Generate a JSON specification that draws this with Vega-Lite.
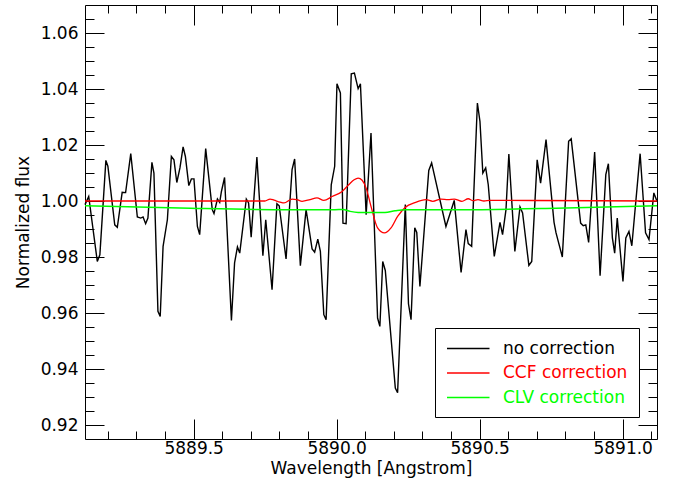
{
  "$schema": "https://vega.github.io/schema/vega-lite/v6.json",
  "width": 572,
  "height": 434,
  "autosize": {"type": "none"},
  "padding": {"left": 85, "top": 5, "right": 19, "bottom": 40},
  "background": "#ffffff",
  "config": {
    "view": {"stroke": null},
    "font": "DejaVu Sans",
    "axis": {
      "labelFont": "DejaVu Sans",
      "titleFont": "DejaVu Sans",
      "labelFontSize": 17,
      "titleFontSize": 17,
      "titleFontWeight": "normal",
      "labelColor": "#000000",
      "titleColor": "#000000",
      "tickColor": "#000000",
      "domainColor": "#000000",
      "tickWidth": 1,
      "domainWidth": 1,
      "grid": false,
      "labelFlush": false,
      "labelOverlap": false
    }
  },
  "datasets": {
    "black": [
      {"s":"no correction","w":5889.120,"f":0.9987},
      {"s":"no correction","w":5889.133,"f":1.0016},
      {"s":"no correction","w":5889.163,"f":0.9784},
      {"s":"no correction","w":5889.172,"f":0.9808},
      {"s":"no correction","w":5889.193,"f":1.0145},
      {"s":"no correction","w":5889.200,"f":1.0124},
      {"s":"no correction","w":5889.224,"f":0.9915},
      {"s":"no correction","w":5889.233,"f":0.9906},
      {"s":"no correction","w":5889.250,"f":1.0031},
      {"s":"no correction","w":5889.262,"f":1.0030},
      {"s":"no correction","w":5889.280,"f":1.0169},
      {"s":"no correction","w":5889.303,"f":0.9943},
      {"s":"no correction","w":5889.315,"f":0.9939},
      {"s":"no correction","w":5889.323,"f":0.9943},
      {"s":"no correction","w":5889.332,"f":0.9919},
      {"s":"no correction","w":5889.340,"f":0.9939},
      {"s":"no correction","w":5889.354,"f":1.0138},
      {"s":"no correction","w":5889.361,"f":1.0100},
      {"s":"no correction","w":5889.375,"f":0.9606},
      {"s":"no correction","w":5889.383,"f":0.9588},
      {"s":"no correction","w":5889.393,"f":0.9838},
      {"s":"no correction","w":5889.408,"f":0.9933},
      {"s":"no correction","w":5889.422,"f":1.0159},
      {"s":"no correction","w":5889.431,"f":1.0147},
      {"s":"no correction","w":5889.441,"f":1.0066},
      {"s":"no correction","w":5889.452,"f":1.0118},
      {"s":"no correction","w":5889.463,"f":1.0193},
      {"s":"no correction","w":5889.471,"f":1.0159},
      {"s":"no correction","w":5889.483,"f":1.0055},
      {"s":"no correction","w":5889.492,"f":1.0079},
      {"s":"no correction","w":5889.501,"f":1.0079},
      {"s":"no correction","w":5889.513,"f":0.9909},
      {"s":"no correction","w":5889.521,"f":0.9880},
      {"s":"no correction","w":5889.542,"f":1.0187},
      {"s":"no correction","w":5889.565,"f":0.9969},
      {"s":"no correction","w":5889.571,"f":0.9955},
      {"s":"no correction","w":5889.583,"f":1.0007},
      {"s":"no correction","w":5889.591,"f":0.9995},
      {"s":"no correction","w":5889.597,"f":1.0034},
      {"s":"no correction","w":5889.608,"f":1.0084},
      {"s":"no correction","w":5889.632,"f":0.9573},
      {"s":"no correction","w":5889.643,"f":0.9779},
      {"s":"no correction","w":5889.653,"f":0.9836},
      {"s":"no correction","w":5889.661,"f":0.9814},
      {"s":"no correction","w":5889.684,"f":1.0007},
      {"s":"no correction","w":5889.692,"f":0.9993},
      {"s":"no correction","w":5889.701,"f":0.9871},
      {"s":"no correction","w":5889.721,"f":1.0157},
      {"s":"no correction","w":5889.742,"f":0.9805},
      {"s":"no correction","w":5889.752,"f":0.9933},
      {"s":"no correction","w":5889.774,"f":0.9683},
      {"s":"no correction","w":5889.791,"f":0.9990},
      {"s":"no correction","w":5889.799,"f":0.9983},
      {"s":"no correction","w":5889.823,"f":0.9793},
      {"s":"no correction","w":5889.844,"f":1.0112},
      {"s":"no correction","w":5889.853,"f":1.0150},
      {"s":"no correction","w":5889.873,"f":0.9769},
      {"s":"no correction","w":5889.893,"f":0.9969},
      {"s":"no correction","w":5889.914,"f":0.9829},
      {"s":"no correction","w":5889.923,"f":0.9817},
      {"s":"no correction","w":5889.934,"f":0.9864},
      {"s":"no correction","w":5889.943,"f":0.9820},
      {"s":"no correction","w":5889.955,"f":0.9594},
      {"s":"no correction","w":5889.963,"f":0.9576},
      {"s":"no correction","w":5889.981,"f":1.0058},
      {"s":"no correction","w":5889.993,"f":1.0124},
      {"s":"no correction","w":5890.001,"f":1.0419},
      {"s":"no correction","w":5890.013,"f":1.0386},
      {"s":"no correction","w":5890.022,"f":0.9921},
      {"s":"no correction","w":5890.033,"f":0.9919},
      {"s":"no correction","w":5890.051,"f":1.0454},
      {"s":"no correction","w":5890.062,"f":1.0457},
      {"s":"no correction","w":5890.075,"f":1.0401},
      {"s":"no correction","w":5890.083,"f":1.0419},
      {"s":"no correction","w":5890.103,"f":0.9951},
      {"s":"no correction","w":5890.120,"f":1.0243},
      {"s":"no correction","w":5890.143,"f":0.9582},
      {"s":"no correction","w":5890.151,"f":0.9552},
      {"s":"no correction","w":5890.161,"f":0.9784},
      {"s":"no correction","w":5890.170,"f":0.9752},
      {"s":"no correction","w":5890.205,"f":0.9332},
      {"s":"no correction","w":5890.213,"f":0.9315},
      {"s":"no correction","w":5890.240,"f":0.9987},
      {"s":"no correction","w":5890.251,"f":0.9633},
      {"s":"no correction","w":5890.260,"f":0.9576},
      {"s":"no correction","w":5890.273,"f":0.9904},
      {"s":"no correction","w":5890.280,"f":0.9888},
      {"s":"no correction","w":5890.291,"f":0.9695},
      {"s":"no correction","w":5890.322,"f":1.0109},
      {"s":"no correction","w":5890.332,"f":1.0136},
      {"s":"no correction","w":5890.382,"f":0.9909},
      {"s":"no correction","w":5890.411,"f":1.0002},
      {"s":"no correction","w":5890.435,"f":0.9745},
      {"s":"no correction","w":5890.452,"f":0.9898},
      {"s":"no correction","w":5890.460,"f":0.9848},
      {"s":"no correction","w":5890.472,"f":0.9838},
      {"s":"no correction","w":5890.492,"f":1.0350},
      {"s":"no correction","w":5890.501,"f":1.0284},
      {"s":"no correction","w":5890.511,"f":1.0100},
      {"s":"no correction","w":5890.521,"f":1.0118},
      {"s":"no correction","w":5890.530,"f":1.0058},
      {"s":"no correction","w":5890.551,"f":0.9802},
      {"s":"no correction","w":5890.571,"f":0.9924},
      {"s":"no correction","w":5890.580,"f":0.9880},
      {"s":"no correction","w":5890.592,"f":0.9969},
      {"s":"no correction","w":5890.602,"f":1.0168},
      {"s":"no correction","w":5890.623,"f":0.9820},
      {"s":"no correction","w":5890.641,"f":0.9979},
      {"s":"no correction","w":5890.650,"f":0.9957},
      {"s":"no correction","w":5890.672,"f":0.9770},
      {"s":"no correction","w":5890.682,"f":0.9784},
      {"s":"no correction","w":5890.701,"f":1.0147},
      {"s":"no correction","w":5890.713,"f":1.0064},
      {"s":"no correction","w":5890.732,"f":1.0219},
      {"s":"no correction","w":5890.760,"f":0.9924},
      {"s":"no correction","w":5890.767,"f":0.9886},
      {"s":"no correction","w":5890.789,"f":0.9800},
      {"s":"no correction","w":5890.811,"f":1.0213},
      {"s":"no correction","w":5890.820,"f":1.0222},
      {"s":"no correction","w":5890.853,"f":0.9921},
      {"s":"no correction","w":5890.862,"f":0.9912},
      {"s":"no correction","w":5890.871,"f":0.9915},
      {"s":"no correction","w":5890.881,"f":0.9852},
      {"s":"no correction","w":5890.902,"f":1.0175},
      {"s":"no correction","w":5890.921,"f":0.9733},
      {"s":"no correction","w":5890.941,"f":1.0094},
      {"s":"no correction","w":5890.950,"f":1.0133},
      {"s":"no correction","w":5890.964,"f":0.9868},
      {"s":"no correction","w":5890.972,"f":0.9814},
      {"s":"no correction","w":5890.981,"f":0.9939},
      {"s":"no correction","w":5891.001,"f":0.9713},
      {"s":"no correction","w":5891.011,"f":0.9868},
      {"s":"no correction","w":5891.022,"f":0.9891},
      {"s":"no correction","w":5891.032,"f":0.9840},
      {"s":"no correction","w":5891.061,"f":1.0169},
      {"s":"no correction","w":5891.080,"f":0.9886},
      {"s":"no correction","w":5891.092,"f":0.9862},
      {"s":"no correction","w":5891.109,"f":1.0029},
      {"s":"no correction","w":5891.120,"f":0.9999}
    ],
    "red": [
      {"s":"CCF correction","w":5889.120,"f":1.0000},
      {"s":"CCF correction","w":5889.749,"f":1.0000},
      {"s":"CCF correction","w":5889.767,"f":1.0007},
      {"s":"CCF correction","w":5889.781,"f":1.0003},
      {"s":"CCF correction","w":5889.802,"f":0.9996},
      {"s":"CCF correction","w":5889.816,"f":0.9993},
      {"s":"CCF correction","w":5889.844,"f":1.0007},
      {"s":"CCF correction","w":5889.861,"f":1.0005},
      {"s":"CCF correction","w":5889.879,"f":0.9999},
      {"s":"CCF correction","w":5889.907,"f":1.0005},
      {"s":"CCF correction","w":5889.931,"f":1.0011},
      {"s":"CCF correction","w":5889.955,"f":1.0002},
      {"s":"CCF correction","w":5889.984,"f":1.0016},
      {"s":"CCF correction","w":5890.019,"f":1.0034},
      {"s":"CCF correction","w":5890.042,"f":1.0058},
      {"s":"CCF correction","w":5890.061,"f":1.0076},
      {"s":"CCF correction","w":5890.075,"f":1.0082},
      {"s":"CCF correction","w":5890.089,"f":1.0074},
      {"s":"CCF correction","w":5890.103,"f":1.0046},
      {"s":"CCF correction","w":5890.120,"f":0.9981},
      {"s":"CCF correction","w":5890.143,"f":0.9904},
      {"s":"CCF correction","w":5890.167,"f":0.9886},
      {"s":"CCF correction","w":5890.190,"f":0.9904},
      {"s":"CCF correction","w":5890.213,"f":0.9945},
      {"s":"CCF correction","w":5890.242,"f":0.9979},
      {"s":"CCF correction","w":5890.271,"f":0.9993},
      {"s":"CCF correction","w":5890.312,"f":1.0005},
      {"s":"CCF correction","w":5890.336,"f":0.9999},
      {"s":"CCF correction","w":5890.365,"f":1.0007},
      {"s":"CCF correction","w":5890.389,"f":1.0005},
      {"s":"CCF correction","w":5890.411,"f":1.0007},
      {"s":"CCF correction","w":5890.438,"f":0.9999},
      {"s":"CCF correction","w":5890.460,"f":1.0008},
      {"s":"CCF correction","w":5890.477,"f":1.0001},
      {"s":"CCF correction","w":5890.494,"f":1.0005},
      {"s":"CCF correction","w":5890.515,"f":1.0000},
      {"s":"CCF correction","w":5890.536,"f":1.0002},
      {"s":"CCF correction","w":5891.120,"f":1.0000}
    ],
    "green": [
      {"s":"CLV correction","w":5889.120,"f":0.9983},
      {"s":"CLV correction","w":5889.452,"f":0.9975},
      {"s":"CLV correction","w":5889.781,"f":0.9969},
      {"s":"CLV correction","w":5889.994,"f":0.9969},
      {"s":"CLV correction","w":5890.022,"f":0.9970},
      {"s":"CLV correction","w":5890.047,"f":0.9963},
      {"s":"CLV correction","w":5890.075,"f":0.9959},
      {"s":"CLV correction","w":5890.169,"f":0.9959},
      {"s":"CLV correction","w":5890.204,"f":0.9965},
      {"s":"CLV correction","w":5890.239,"f":0.9969},
      {"s":"CLV correction","w":5890.431,"f":0.9969},
      {"s":"CLV correction","w":5890.767,"f":0.9974},
      {"s":"CLV correction","w":5891.120,"f":0.9983}
    ]
  },
  "resolve": {"axis": {"x": "independent", "y": "independent"}},
  "layer": [
    {
      "data": {"name": "black"},
      "mark": {"type": "line", "strokeWidth": 1.4},
      "encoding": {
        "x": {"field": "w", "type": "quantitative",
          "scale": {"domain": [5889.12, 5891.12], "nice": false, "zero": false},
          "axis": {"orient": "bottom", "values": [5889.5, 5890.0, 5890.5, 5891.0], "format": ".1f",
            "tickSize": -20, "labelPadding": 21, "title": "Wavelength [Angstrom]", "titlePadding": 4, "domain": true}},
        "y": {"field": "f", "type": "quantitative",
          "scale": {"domain": [0.915, 1.07], "nice": false, "zero": false},
          "axis": {"orient": "left", "values": [0.92, 0.94, 0.96, 0.98, 1.0, 1.02, 1.04, 1.06], "format": ".2f",
            "tickSize": -19, "labelPadding": 26, "title": "Normalized flux", "titlePadding": 8, "domain": true}},
        "color": {"field": "s", "type": "nominal",
          "scale": {"domain": ["no correction", "CCF correction", "CLV correction"], "range": ["#000000", "#ff0000", "#00ff00"]},
          "legend": {
            "title": null, "orient": "none", "legendX": 350, "legendY": 323,
            "symbolType": "M-1,0H4", "symbolSize": 289, "symbolStrokeWidth": 1.3,
            "labelFont": "DejaVu Sans", "labelFontSize": 17, "labelOffset": 38,
            "padding": 11, "rowPadding": 6.5, "strokeColor": "#000000", "fillColor": "#ffffff",
            "encode": {"labels": {"update": {"fill": {"signal": "datum.value === 'CCF correction' ? '#ff0000' : (datum.value === 'CLV correction' ? '#00ff00' : '#000000')"}}}}
          }}
      }
    },
    {
      "data": {"name": "red"},
      "mark": {"type": "line", "strokeWidth": 1.3, "interpolate": "monotone"},
      "encoding": {
        "x": {"field": "w", "type": "quantitative",
          "axis": {"orient": "top", "values": [5889.5, 5890.0, 5890.5, 5891.0], "tickSize": -20, "labels": false, "title": null, "domain": true}},
        "y": {"field": "f", "type": "quantitative",
          "axis": {"orient": "right", "values": [0.92, 0.94, 0.96, 0.98, 1.0, 1.02, 1.04, 1.06], "tickSize": -19, "labels": false, "title": null, "domain": true}},
        "color": {"field": "s", "type": "nominal"}
      }
    },
    {
      "data": {"name": "green"},
      "mark": {"type": "line", "strokeWidth": 1.5, "interpolate": "monotone"},
      "encoding": {
        "x": {"field": "w", "type": "quantitative",
          "axis": {"orient": "bottom", "values": [5889.2, 5889.3, 5889.4, 5889.6, 5889.7, 5889.8, 5889.9, 5890.1, 5890.2, 5890.3, 5890.4, 5890.6, 5890.7, 5890.8, 5890.9, 5891.1], "tickSize": -8, "labels": false, "title": null, "domain": false}},
        "y": {"field": "f", "type": "quantitative",
          "axis": {"orient": "left", "values": [0.925, 0.93, 0.935, 0.945, 0.95, 0.955, 0.965, 0.97, 0.975, 0.985, 0.99, 0.995, 1.005, 1.01, 1.015, 1.025, 1.03, 1.035, 1.045, 1.05, 1.055, 1.065], "tickSize": -9, "labels": false, "title": null, "domain": false}},
        "color": {"field": "s", "type": "nominal"}
      }
    },
    {
      "data": {"name": "green"},
      "mark": {"type": "point", "opacity": 0},
      "encoding": {
        "x": {"field": "w", "type": "quantitative",
          "axis": {"orient": "top", "values": [5889.2, 5889.3, 5889.4, 5889.6, 5889.7, 5889.8, 5889.9, 5890.1, 5890.2, 5890.3, 5890.4, 5890.6, 5890.7, 5890.8, 5890.9, 5891.1], "tickSize": -8, "labels": false, "title": null, "domain": false}},
        "y": {"field": "f", "type": "quantitative",
          "axis": {"orient": "right", "values": [0.925, 0.93, 0.935, 0.945, 0.95, 0.955, 0.965, 0.97, 0.975, 0.985, 0.99, 0.995, 1.005, 1.01, 1.015, 1.025, 1.03, 1.035, 1.045, 1.05, 1.055, 1.065], "tickSize": -9, "labels": false, "title": null, "domain": false}}
      }
    }
  ]
}
